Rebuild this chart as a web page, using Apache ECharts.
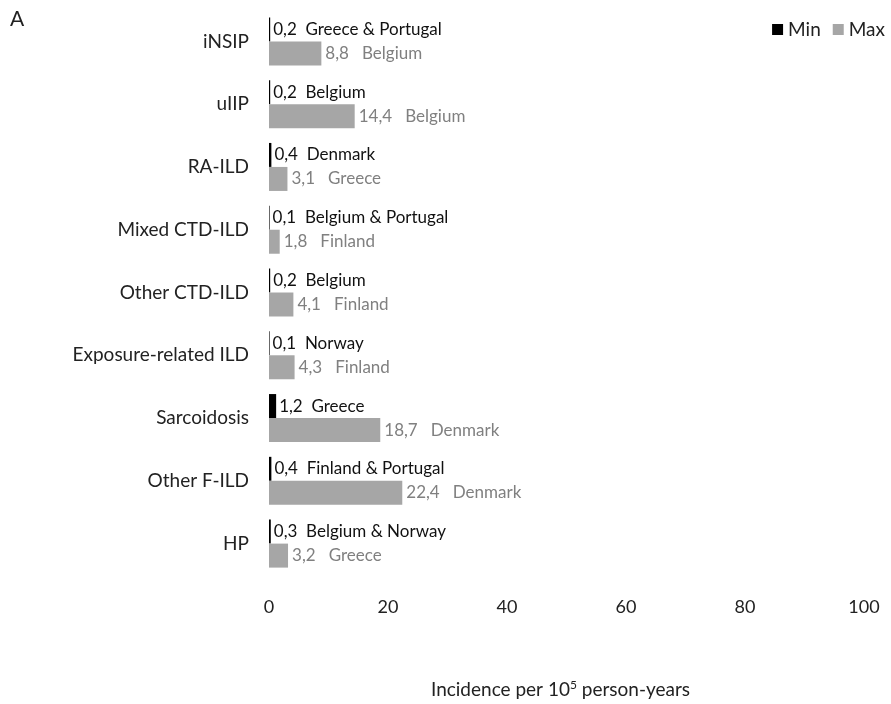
<!DOCTYPE html>
<html>
<head>
<meta charset="utf-8">
<script src="https://cdn.jsdelivr.net/npm/echarts@6/dist/echarts.min.js"></script>
<style>
  html, body { margin: 0; padding: 0; background: #fff; }
  #chart { width: 891px; height: 704px; }
</style>
</head>
<body>
<div id="chart"></div>
<script>
// ILD subtypes, top to bottom
const categories = ['iNSIP', 'uIIP', 'RA-ILD', 'Mixed CTD-ILD', 'Other CTD-ILD',
  'Exposure-related ILD', 'Sarcoidosis', 'Other F-ILD', 'HP'];

// Lowest incidence per 10^5 person-years and the country reporting it
const minValues = [0.2, 0.2, 0.4, 0.1, 0.2, 0.1, 1.2, 0.4, 0.3];
const minCountries = ['Greece & Portugal', 'Belgium', 'Denmark', 'Belgium & Portugal', 'Belgium',
  'Norway', 'Greece', 'Finland & Portugal', 'Belgium & Norway'];

// Highest incidence per 10^5 person-years and the country reporting it
const maxValues = [8.8, 14.4, 3.1, 1.8, 4.1, 4.3, 18.7, 22.4, 3.2];
const maxCountries = ['Belgium', 'Belgium', 'Greece', 'Finland', 'Finland',
  'Finland', 'Denmark', 'Denmark', 'Greece'];

const xTicks = [0, 20, 40, 60, 80, 100];

const FONT = 'Lato';
const fmt = v => v.toFixed(1).replace('.', ',');

const chart = echarts.init(document.getElementById('chart'), null, { renderer: 'canvas' });

chart.setOption({
  animation: false,
  textStyle: { fontFamily: FONT },
  grid: { left: 269, right: 27, top: 10, bottom: 125, containLabel: false },
  legend: {
    data: ['Min', 'Max'],
    right: 1,
    top: 15,
    itemWidth: 11,
    itemHeight: 11,
    itemGap: 12,
    icon: 'rect',
    textStyle: { fontFamily: FONT, fontSize: 19, color: '#222' }
  },
  title: {
    text: 'A',
    left: 5,
    top: 4,
    textStyle: { fontFamily: FONT, fontSize: 21, fontWeight: 'normal', color: '#222' }
  },
  xAxis: {
    type: 'value',
    min: xTicks[0],
    max: xTicks[xTicks.length - 1],
    interval: 20,
    axisLine: { show: false },
    axisTick: { show: false },
    splitLine: { show: false },
    axisLabel: { fontFamily: FONT, fontSize: 18, color: '#222', margin: 23 },
    name: '{a|Incidence per 10}{s|5}{a| person-years}',
    nameLocation: 'middle',
    nameGap: 104,
    nameTextStyle: {
      padding: [0, 12, 0, 0],
      rich: {
        a: { fontFamily: FONT, fontSize: 19, color: '#222' },
        s: { fontFamily: FONT, fontSize: 12, color: '#222', verticalAlign: 'top', padding: [0, 0, 9, 0] }
      }
    }
  },
  yAxis: {
    type: 'category',
    data: categories,
    inverse: true,
    axisLine: { show: false },
    axisTick: { show: false },
    axisLabel: { fontFamily: FONT, fontSize: 19, color: '#222', margin: 20 }
  },
  series: [
    {
      name: 'Min',
      type: 'bar',
      data: minValues,
      barWidth: 24,
      barGap: '0%',
      itemStyle: { color: '#000000' },
      label: {
        show: true,
        position: 'right',
        distance: 3,
        fontFamily: FONT,
        fontSize: 17,
        color: '#111',
        formatter: p => fmt(p.value) + '  ' + minCountries[p.dataIndex]
      }
    },
    {
      name: 'Max',
      type: 'bar',
      data: maxValues,
      barWidth: 24,
      barGap: '0%',
      itemStyle: { color: '#a6a6a6' },
      label: {
        show: true,
        position: 'right',
        distance: 4,
        fontFamily: FONT,
        fontSize: 17,
        color: '#808080',
        formatter: p => fmt(p.value) + '   ' + maxCountries[p.dataIndex]
      }
    }
  ]
});
</script>
</body>
</html>
